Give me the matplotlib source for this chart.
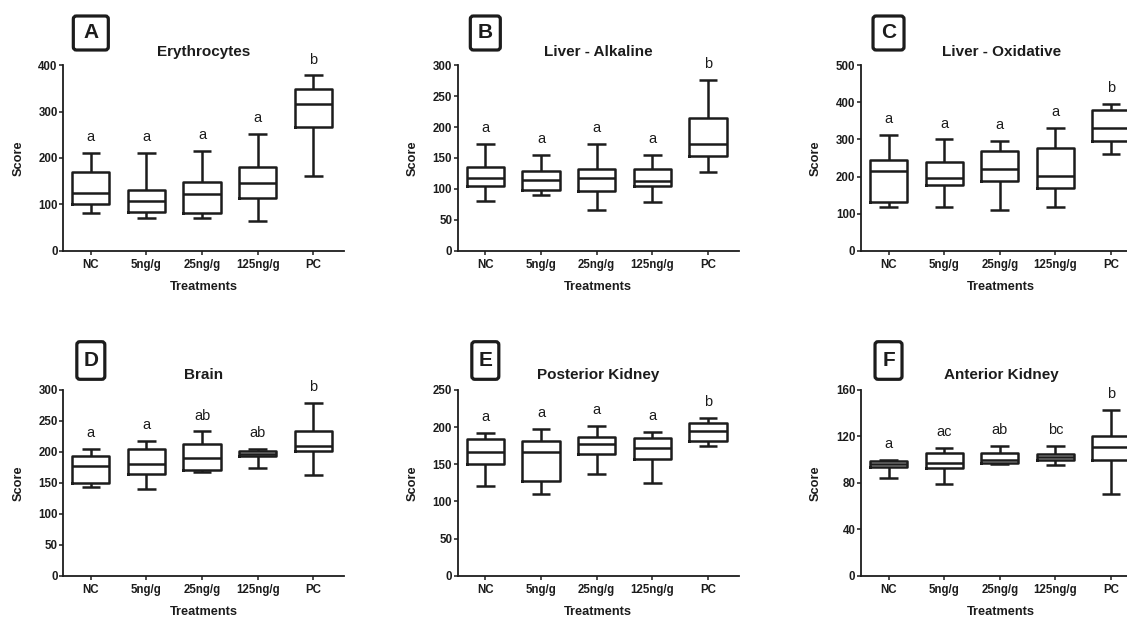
import matplotlib
matplotlib.use("Agg")
import matplotlib.pyplot as plt
from matplotlib.patches import FancyBboxPatch

plt.rcParams["font.family"] = ["Liberation Sans", "DejaVu Sans"]

# ---------------- data ----------------
categories = ["NC", "5ng/g", "25ng/g", "125ng/g", "PC"]

# A - Erythrocytes
ery_low = [82, 70, 70, 65, 162]
ery_q1 = [100, 84, 82, 114, 266]
ery_med = [125, 107, 122, 145, 317]
ery_q3 = [170, 130, 148, 180, 348]
ery_high = [210, 210, 216, 252, 378]
ery_letters = ["a", "a", "a", "a", "b"]

# B - Liver - Alkaline
lal_low = [80, 90, 66, 79, 128]
lal_q1 = [105, 98, 96, 104, 154]
lal_med = [117, 115, 117, 112, 173]
lal_q3 = [135, 129, 133, 132, 215]
lal_high = [173, 155, 173, 155, 276]
lal_letters = ["a", "a", "a", "a", "b"]

# C - Liver - Oxidative
lox_low = [119, 119, 110, 117, 262]
lox_q1 = [131, 178, 187, 170, 296]
lox_med = [214, 197, 221, 201, 330]
lox_q3 = [245, 239, 268, 278, 380]
lox_high = [311, 300, 295, 330, 395]
lox_letters = ["a", "a", "a", "a", "b"]

# D - Brain
brn_low = [144, 140, 167, 174, 163]
brn_q1 = [149, 164, 170, 193, 201]
brn_med = [178, 180, 190, 197, 210]
brn_q3 = [194, 204, 212, 202, 234]
brn_high = [205, 217, 233, 205, 279]
brn_letters = ["a", "a", "ab", "ab", "b"]

# E - Posterior Kidney
pk_low = [121, 110, 137, 125, 175]
pk_q1 = [151, 128, 164, 157, 181]
pk_med = [166, 167, 177, 172, 195]
pk_q3 = [184, 181, 187, 186, 205]
pk_high = [192, 197, 201, 193, 212]
pk_letters = ["a", "a", "a", "a", "b"]

# F - Anterior Kidney
ak_low = [84.5, 79, 96, 95.5, 70]
ak_q1 = [93.5, 92.5, 97, 100, 99.5]
ak_med = [96, 97, 99.5, 102.5, 110.5]
ak_q3 = [99, 105.5, 105.5, 105, 120.5]
ak_high = [100, 110, 112, 112, 143]
ak_letters = ["a", "ac", "ab", "bc", "b"]

panel_tags = ["A", "B", "C", "D", "E", "F"]
panel_titles = ["Erythrocytes", "Liver - Alkaline", "Liver - Oxidative",
                "Brain", "Posterior Kidney", "Anterior Kidney"]
y_ticks = [[0, 100, 200, 300, 400],
           [0, 50, 100, 150, 200, 250, 300],
           [0, 100, 200, 300, 400, 500],
           [0, 50, 100, 150, 200, 250, 300],
           [0, 50, 100, 150, 200, 250],
           [0, 40, 80, 120, 160]]

panels = [
    (ery_low, ery_q1, ery_med, ery_q3, ery_high, ery_letters),
    (lal_low, lal_q1, lal_med, lal_q3, lal_high, lal_letters),
    (lox_low, lox_q1, lox_med, lox_q3, lox_high, lox_letters),
    (brn_low, brn_q1, brn_med, brn_q3, brn_high, brn_letters),
    (pk_low, pk_q1, pk_med, pk_q3, pk_high, pk_letters),
    (ak_low, ak_q1, ak_med, ak_q3, ak_high, ak_letters),
]

# ---------------- layout (pixels) ----------------
DPI = 100
W, H = 1127, 619
INK = "#1c1c1c"
col_left = [63, 457.5, 860.7]
row_top = [65.3, 390.0]
row_bot = [250.7, 575.7]
AX_W = 281
XMIN, XMAX = -0.5, 4.55
tag_top = [16, 341.7]
tag_bot = [50, 379.3]
tag_w = [35, 30, 31, 28, 27, 27]
title_pad = [7, 8]

fig = plt.figure(figsize=(W / DPI, H / DPI), dpi=DPI)
fig.patch.set_facecolor("white")

for idx, (lo, q1, med, q3, hi, letters) in enumerate(panels):
    r, c = divmod(idx, 3)
    top, bot = row_top[r], row_bot[r]
    ax_h = bot - top
    ax = fig.add_axes([col_left[c] / W, (H - bot) / H, AX_W / W, ax_h / H])
    ax.set_facecolor("white")

    stats = [dict(whislo=lo[i], q1=q1[i], med=med[i], q3=q3[i], whishi=hi[i],
                  fliers=[], label=categories[i]) for i in range(len(categories))]
    lp = dict(color=INK, linewidth=1.8, solid_capstyle="butt")
    ax.bxp(stats, positions=list(range(len(categories))), widths=0.67,
           showfliers=False, manage_ticks=False,
           boxprops=dict(color=INK, linewidth=1.8),
           whiskerprops=lp, capprops=lp,
           medianprops=dict(color=INK, linewidth=1.8))

    yt = y_ticks[idx]
    ax.set_xlim(XMIN, XMAX)
    ax.set_ylim(yt[0], yt[-1])
    ax.set_yticks(yt)
    ax.set_xticks(range(len(categories)))
    ax.set_xticklabels(categories)
    for sp in ("top", "right"):
        ax.spines[sp].set_visible(False)
    for sp in ("left", "bottom"):
        ax.spines[sp].set_linewidth(1.3)
        ax.spines[sp].set_color(INK)
    ax.tick_params(axis="both", length=3, width=1.1, direction="out",
                   labelsize=8.3, colors=INK)
    ax.tick_params(axis="y", pad=0.8)
    ax.tick_params(axis="x", pad=3.2)
    for lab in ax.get_xticklabels() + ax.get_yticklabels():
        lab.set_fontweight("bold")

    for i, let in enumerate(letters):
        ax.annotate(let, xy=(i, hi[i]), xytext=(0, 8.6), textcoords="offset points",
                    ha="center", va="baseline", fontsize=10.5, color=INK)

    ax.set_title(panel_titles[idx], fontsize=11, fontweight="bold",
                 pad=title_pad[r], color=INK)
    ax.set_ylabel("Score", fontsize=9.2, fontweight="bold", color=INK)
    ax.yaxis.set_label_coords(-38.7 / AX_W, 0.5)
    ax.set_xlabel("Treatments", fontsize=9.2, fontweight="bold", color=INK)
    ax.xaxis.set_label_coords(0.5, -30 / ax_h)

    # panel tag box, centred above the first category
    px_per_unit = AX_W / (XMAX - XMIN)
    cx = col_left[c] + (0 - XMIN) * px_per_unit
    bw = tag_w[idx]
    bh = tag_bot[r] - tag_top[r]
    x0 = (cx - bw / 2) / DPI
    y0 = (H - tag_bot[r]) / DPI
    box = FancyBboxPatch((x0, y0), bw / DPI, bh / DPI,
                         boxstyle="round,pad=0,rounding_size=0.03",
                         transform=fig.dpi_scale_trans, linewidth=2.3,
                         edgecolor=INK, facecolor="white")
    fig.add_artist(box)
    fig.text(cx / DPI, (H - (tag_top[r] + tag_bot[r]) / 2) / DPI, panel_tags[idx],
             transform=fig.dpi_scale_trans, ha="center", va="center",
             fontsize=15, fontweight="bold", color=INK)

fig.savefig("out.png", dpi=DPI, facecolor="white")
